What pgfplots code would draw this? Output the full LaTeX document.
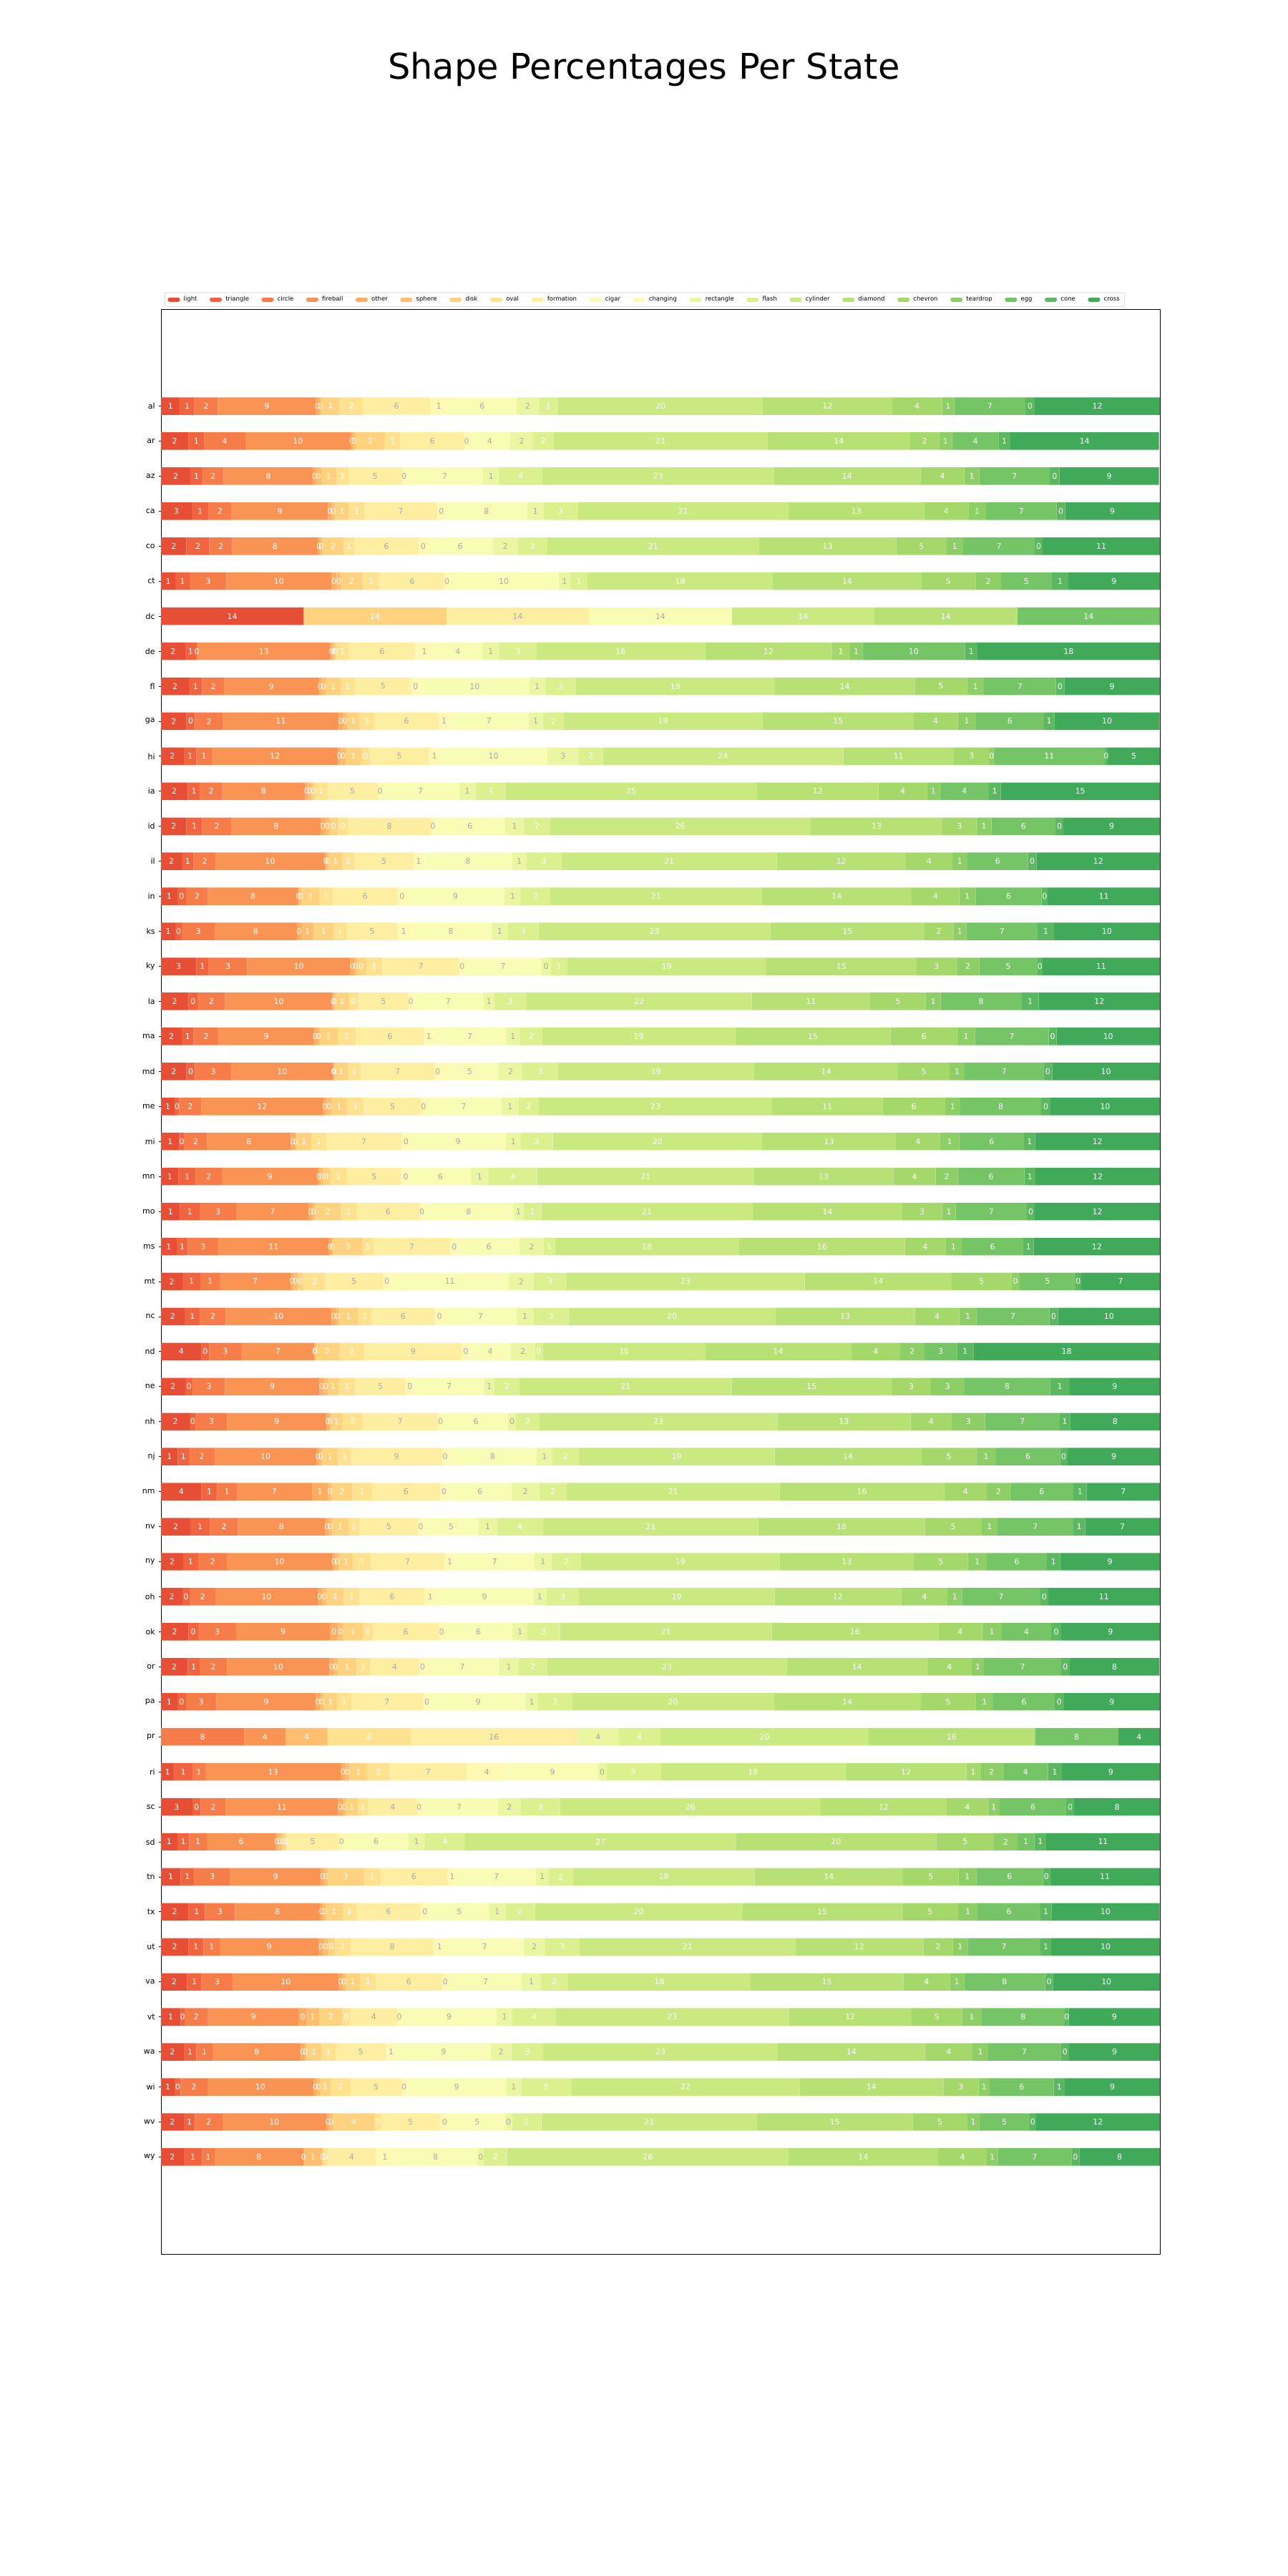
\documentclass[border=0pt]{standalone}
\usepackage{pgfplots}
\usepackage{pgfplotstable}
\usepackage{fontspec}
\setmainfont{DejaVu Sans}
\pgfplotsset{compat=1.18}

% bar colours: RdYlGn sampled from 0.15 to 0.85
\definecolor{f-light}{HTML}{E64E35}
\definecolor{f-triangle}{HTML}{F0653F}
\definecolor{f-circle}{HTML}{F67C4A}
\definecolor{f-fireball}{HTML}{F99455}
\definecolor{f-other}{HTML}{FDAC60}
\definecolor{f-sphere}{HTML}{FDBF6F}
\definecolor{f-disk}{HTML}{FED27F}
\definecolor{f-oval}{HTML}{FEE28F}
\definecolor{f-formation}{HTML}{FEEEA2}
\definecolor{f-cigar}{HTML}{FFF9B5}
\definecolor{f-changing}{HTML}{F8FCB5}
\definecolor{f-rectangle}{HTML}{EAF6A2}
\definecolor{f-flash}{HTML}{DCF08F}
\definecolor{f-cylinder}{HTML}{CAE981}
\definecolor{f-diamond}{HTML}{B7E075}
\definecolor{f-chevron}{HTML}{A4D86A}
\definecolor{f-teardrop}{HTML}{8DCE67}
\definecolor{f-egg}{HTML}{75C465}
\definecolor{f-cone}{HTML}{5CB860}
\definecolor{f-cross}{HTML}{40AA5A}
\definecolor{lblgray}{HTML}{A9A9A9}
% label colours: grey on the palest segments
\colorlet{t-light}{white}
\colorlet{t-triangle}{white}
\colorlet{t-circle}{white}
\colorlet{t-fireball}{white}
\colorlet{t-other}{white}
\colorlet{t-sphere}{white}
\colorlet{t-disk}{white}
\colorlet{t-oval}{white}
\colorlet{t-formation}{lblgray}
\colorlet{t-cigar}{lblgray}
\colorlet{t-changing}{lblgray}
\colorlet{t-rectangle}{lblgray}
\colorlet{t-flash}{white}
\colorlet{t-cylinder}{white}
\colorlet{t-diamond}{white}
\colorlet{t-chevron}{white}
\colorlet{t-teardrop}{white}
\colorlet{t-egg}{white}
\colorlet{t-cone}{white}
\colorlet{t-cross}{white}

\pgfplotstableread{
st light triangle circle fireball other sphere disk oval formation cigar changing rectangle flash cylinder diamond chevron teardrop egg cone cross
al 1.9 1.44 2.35 9.8 0.33 0.26 1.8 2.35 6.7 1.77 6.9 2.2 1.96 20.5 12.95 4.97 1.24 7.13 0.92 12.53
ar 2.75 1.57 4.12 10.53 0.26 0.26 2.9 1.57 6.38 0.5 4.12 2.29 2.03 21.45 14.26 2.9 1.31 4.64 1.18 14.88
az 2.94 1.24 2.09 8.96 0.3 0.5 1.57 1.18 5.3 0.5 7.65 1.64 4.32 23.15 14.7 4.38 1.5 7.05 0.98 9.95
ca 3.07 1.7 2.29 9.68 0.3 0.4 1.37 1.57 7.26 0.85 8.18 1.64 3.4 21.13 13.54 4.45 1.77 7.06 0.85 9.48
co 2.55 2.29 2.29 8.57 0.2 0.26 2.16 1.05 6.41 0.92 6.54 2.49 2.95 21.19 13.73 5.05 1.64 7.19 0.78 11.74
ct 1.44 1.44 3.66 10.53 0.5 0.45 2.16 1.7 6.54 0.4 10.99 1.18 1.7 18.57 14.85 5.43 2.55 5.1 1.64 9.17
dc 14.2857 0 0 0 0 0 14.2857 0 14.2857 0 14.2857 0 0 14.2857 14.2857 0 0 14.2858 0 0
de 2.42 1.1 0.15 13.28 0.2 0.2 0.2 1.24 6.67 1.83 4.84 1.77 3.66 16.9 12.69 1.83 1.24 10.27 1.24 18.27
fl 2.81 1.31 2.22 9.42 0.33 0.4 1.5 1.44 5.62 0.9 10.92 1.57 3.07 19.95 14.0 5.23 1.7 7.19 0.85 9.57
ga 2.55 0.85 2.81 11.58 0.4 0.45 1.24 1.5 6.41 1.1 7.9 1.44 2.09 19.88 15.17 4.38 1.83 6.8 1.05 10.55
hi 2.29 1.24 1.57 12.62 0.3 0.45 1.57 0.85 5.95 1.05 10.79 3.14 2.42 24.07 11.05 3.6 0.4 11.12 0.3 5.22
ia 2.68 1.24 2.22 8.31 0.26 0.33 0.4 1.18 5.1 0.4 7.72 1.64 3.01 25.18 12.16 4.84 1.31 4.9 1.18 15.94
id 2.55 1.57 2.94 8.96 0.4 0.45 0.85 0.98 8.31 0.45 6.95 1.97 2.55 26.1 13.21 3.4 1.5 6.41 0.78 9.67
il 2.09 1.18 2.22 10.9 0.2 0.2 1.37 1.18 5.95 1.02 8.83 1.44 3.53 21.52 12.95 4.64 1.5 6.08 0.85 12.35
in 1.64 0.85 2.22 8.96 0.2 0.2 1.77 1.37 6.47 0.9 9.81 1.64 2.94 21.19 14.98 4.77 1.64 6.61 0.6 11.24
ks 1.44 0.65 3.27 8.24 0.45 1.24 1.96 1.37 5.04 1.31 8.11 1.64 3.07 23.22 15.43 2.88 1.31 7.13 1.64 10.59
ky 3.53 1.24 3.86 10.33 0.4 0.26 0.85 1.7 7.72 0.5 7.72 0.9 1.64 19.95 15.04 3.99 2.29 5.82 0.5 11.76
la 2.75 0.92 2.75 10.73 0.15 0.15 1.37 0.92 5.04 0.45 7.06 1.1 3.2 22.56 11.84 5.56 1.5 8.11 1.7 12.14
ma 2.09 1.18 2.49 9.55 0.3 0.3 1.77 1.83 6.8 1.02 7.19 1.44 2.22 19.29 15.57 6.67 1.77 7.39 0.78 10.35
md 2.55 0.85 3.66 10.14 0.1 0.1 1.3 1.31 7.39 0.6 5.82 2.35 3.6 19.62 14.39 5.17 1.5 7.91 0.85 10.79
me 1.37 0.45 2.22 12.16 0.4 0.5 1.5 1.7 5.76 0.45 7.59 1.7 2.03 23.35 11.05 6.28 1.5 8.11 0.92 10.96
mi 1.83 0.5 2.29 8.37 0.4 0.2 1.44 1.5 7.59 0.85 9.55 1.5 3.2 20.95 13.41 4.38 1.96 6.47 1.11 12.5
mn 1.77 1.7 2.62 9.61 0.2 0.3 0.72 1.7 5.43 0.92 6.02 1.83 4.84 21.71 13.93 4.25 2.22 6.67 1.11 12.45
mo 1.9 1.97 3.66 7.26 0.33 0.33 2.55 1.57 6.34 0.4 8.96 1.05 1.77 21.13 14.98 3.99 1.37 7.13 0.78 12.53
ms 1.57 1.11 3.07 11.05 0.26 0.13 3.01 1.05 7.72 0.78 6.15 2.42 1.11 18.44 16.61 4.05 1.64 6.15 1.05 12.63
mt 2.16 1.77 1.96 7.06 0.33 0.4 0.6 2.16 5.76 0.85 11.77 2.49 3.27 23.87 14.72 5.95 0.85 5.56 0.6 7.87
nc 2.35 1.57 2.55 10.6 0.4 0.4 1.83 1.37 6.34 0.98 7.19 1.7 3.53 20.73 13.93 4.45 1.7 7.33 0.85 10.2
nd 4.05 0.78 3.2 7.33 0.05 0.05 2.42 2.49 9.75 0.78 4.12 2.42 0.78 16.29 14.58 4.91 2.42 3.27 1.64 18.67
ne 2.42 0.78 3.2 9.48 0.4 0.45 1.02 1.7 5.04 0.85 7.0 1.05 2.49 21.26 15.96 3.99 3.34 8.57 1.96 9.04
nh 2.88 0.6 3.14 9.95 0.26 0.2 1.11 2.09 7.46 0.6 6.47 0.78 2.35 23.81 13.34 4.12 3.34 7.46 1.05 8.99
nj 1.7 1.11 2.55 10.2 0.26 0.33 1.57 1.31 9.09 0.65 8.83 1.57 2.68 19.56 14.72 5.49 1.96 6.41 0.78 9.23
nm 4.05 1.57 1.96 7.52 1.64 0.33 2.09 1.96 6.8 0.85 6.34 2.75 2.75 21.32 16.48 4.25 2.35 6.34 1.31 7.34
nv 2.94 1.96 2.81 8.7 0.4 0.33 1.64 1.11 5.82 0.6 5.49 1.83 4.64 21.52 16.68 5.69 1.57 7.59 1.18 7.5
ny 2.22 1.5 2.88 10.53 0.33 0.4 1.37 1.77 7.39 1.05 7.95 1.7 2.95 19.9 13.41 5.43 1.9 6.02 1.31 9.98
oh 2.16 0.72 2.55 10.27 0.4 0.5 1.7 1.57 6.54 1.11 9.75 1.31 3.27 19.56 12.69 4.64 1.44 7.85 0.78 11.19
ok 2.75 0.98 3.79 9.42 0.78 0.52 1.95 1.05 6.54 0.6 6.8 1.5 3.27 21.19 16.68 4.38 1.96 4.97 0.98 9.89
or 2.68 1.18 2.75 10.27 0.4 0.4 1.9 1.37 4.91 0.65 7.33 1.97 2.88 23.95 14.06 4.45 1.24 7.72 0.85 8.99
pa 1.64 0.85 3.07 9.94 0.4 0.4 1.37 1.37 7.19 0.78 9.48 1.24 3.47 20.14 14.72 5.49 1.77 6.15 0.92 9.61
pr 0 0 8.3333 4.1667 0 4.1667 0 8.3333 16.6667 0 0 4.1667 4.1667 20.8333 16.6667 0 0 8.3333 0 4.1666
ri 1.31 1.83 1.31 13.54 0.45 0.45 1.77 2.22 7.72 4.05 9.09 0.85 5.43 18.51 12.1 1.37 2.29 4.51 1.37 9.83
sc 3.14 0.85 2.49 11.25 0.45 0.33 1.18 1.02 4.97 0.33 7.72 2.29 3.92 26.1 12.62 4.12 1.18 6.67 0.78 8.59
sd 1.64 1.18 1.77 6.87 0.26 0.33 0.4 0.13 5.23 0.52 6.41 1.7 4.02 27.08 20.08 5.76 2.35 1.7 1.18 11.39
tn 1.96 1.37 3.6 9.09 0.33 0.33 3.6 1.7 6.67 1.02 7.85 1.31 2.42 18.18 14.85 5.56 1.77 6.67 0.72 11.0
tx 2.75 1.64 3.01 8.5 0.33 0.26 1.7 1.37 6.41 0.92 5.95 1.64 2.95 20.8 15.95 5.62 1.95 6.28 1.11 10.83
ut 2.75 1.5 1.64 9.88 0.52 0.45 0.65 1.64 8.24 1.24 7.78 2.16 3.47 21.58 12.82 2.94 1.5 7.26 1.11 10.87
va 2.62 1.44 3.14 10.6 0.33 0.4 1.37 1.64 6.54 0.78 7.26 1.9 2.75 18.25 15.3 4.64 1.44 8.11 0.78 10.71
vt 1.96 0.4 2.35 9.09 0.78 1.24 2.35 0.78 4.71 0.4 9.55 1.57 4.32 23.35 12.3 5.04 1.97 8.31 0.4 9.13
wa 2.29 1.24 1.64 8.83 0.33 0.26 1.44 1.44 5.04 1.05 9.48 2.03 3.2 23.48 14.72 4.77 1.57 7.26 0.85 9.08
wi 1.37 0.6 2.68 10.6 0.4 0.26 1.05 2.03 5.1 0.52 9.95 1.5 5.04 22.83 14.39 3.53 1.11 6.41 1.11 9.52
wv 2.29 1.11 2.75 10.4 0.33 0.33 4.19 0.6 5.95 0.92 5.56 0.72 2.94 21.58 15.57 5.49 1.18 5.04 0.65 12.4
wy 2.29 1.83 1.24 8.89 0.1 1.77 0.1 0.5 4.77 1.83 8.37 0.6 2.35 28.19 14.98 4.84 1.11 7.39 0.78 8.07
}\shapes

\pgfplotsset{
  swatch/.style={legend image code/.code={\fill[##1] (0pt,-2.2pt) rectangle (12.2pt,2.2pt);}},
}

\begin{document}
\begin{tikzpicture}
\begin{axis}[
  name=ax,
  set layers=standard, mark layer=axis foreground,
  scale only axis,
  width=1005.12pt, height=1956.96pt,
  xbar stacked, bar width=0.5,
  xmin=0, xmax=100, ymin=-2.77, ymax=52.77,
  y dir=reverse,
  xtick=\empty,
  ytick=data,
  yticklabels from table={\shapes}{st},
  ytick pos=left, tick align=outside,
  major tick length=2.5pt,
  tick style={black, line width=0.6pt},
  axis line style={line width=0.6pt},
  yticklabel style={font=\fontsize{7.9}{9}\selectfont},
  legend columns=20,
  legend style={at={(0,1)}, anchor=south west, xshift=3.6pt, yshift=2.2pt,
    draw=black!20, rounded corners=2pt, fill=white,
    font=\fontsize{6.1}{7}\selectfont,
    /tikz/every even column/.append style={column sep=10.7pt},
    /tikz/every odd column/.append style={column sep=1.8pt}},
  % stacked bars: the labels already sit in the middle of each segment
  nodes near coords={\pgfmathtruncatemacro\lab{\pgfplotspointmeta}\lab},
  every node near coord/.append style={font=\fontsize{7.9}{9}\selectfont,
    anchor=center},
]
\pgfplotsinvokeforeach{light,triangle,circle,fireball,other,sphere,disk,oval,formation,cigar,changing,rectangle,flash,cylinder,diamond,chevron,teardrop,egg,cone,cross}{
  \addplot[fill=f-#1, draw=none, swatch, point meta=explicit symbolic,
    every node near coord/.append style={text=t-#1}]
    table[x=#1, y expr=\coordindex, meta=#1] {\shapes};
  \addlegendentry{#1}
}
\end{axis}
\node[anchor=base, font=\fontsize{35.6}{40}\selectfont]
  at ([shift={(486pt,231.8pt)}]ax.north west) {Shape Percentages Per State};
\pgfresetboundingbox
\path[use as bounding box] ([shift={(-162pt,-324pt)}]ax.south west)
  rectangle ([shift={(128.88pt,311.04pt)}]ax.north east);
\end{tikzpicture}
\end{document}
